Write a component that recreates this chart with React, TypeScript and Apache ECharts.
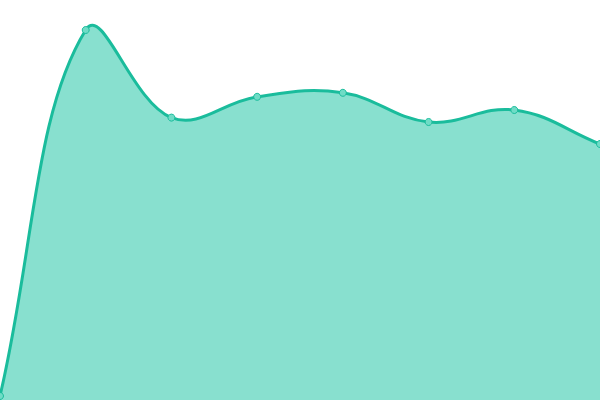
import { useEffect, useRef } from 'react'
import * as echarts from 'echarts'

const categories = ['1', '2', '3', '4', '5', '6', '7', '8']
const values = [1, 92.5, 70.6, 75.8, 76.8, 69.5, 72.5, 64]

const TENSION = 0.4

type Pt = [number, number]

// cardinal-style control points, same idea as a tension spline
function controlPoints(points: Pt[], area: { x: number; y: number; width: number; height: number }) {
  const cps: Array<{ prev: Pt; next: Pt }> = []
  for (let i = 0; i < points.length; i += 1) {
    const first = points[Math.max(0, i - 1)]
    const middle = points[i]
    const after = points[Math.min(points.length - 1, i + 1)]
    const d01 = Math.hypot(middle[0] - first[0], middle[1] - first[1])
    const d12 = Math.hypot(after[0] - middle[0], after[1] - middle[1])
    let s01 = d01 / (d01 + d12)
    let s12 = d12 / (d01 + d12)
    if (Number.isNaN(s01)) s01 = 0
    if (Number.isNaN(s12)) s12 = 0
    const fa = TENSION * s01
    const fb = TENSION * s12
    const cap = (p: Pt): Pt => [
      Math.min(Math.max(p[0], area.x), area.x + area.width),
      Math.min(Math.max(p[1], area.y), area.y + area.height),
    ]
    cps.push({
      prev: cap([middle[0] - fa * (after[0] - first[0]), middle[1] - fa * (after[1] - first[1])]),
      next: cap([middle[0] + fb * (after[0] - first[0]), middle[1] + fb * (after[1] - first[1])]),
    })
  }
  return cps
}

export default function App() {
  const chartRef = useRef<HTMLDivElement | null>(null)

  useEffect(() => {
    if (!chartRef.current) {
      return undefined
    }

    const chart = echarts.init(chartRef.current, undefined, { renderer: 'svg' })

    chart.setOption({
      animation: false,
      grid: { left: 0, right: 0, top: 0, bottom: 0 },
      xAxis: {
        type: 'category',
        boundaryGap: false,
        data: categories,
        show: false,
      },
      yAxis: {
        type: 'value',
        min: 0,
        max: 100,
        show: false,
      },
      series: [
        {
          type: 'custom',
          data: values.map((v, i) => [i, v]),
          renderItem: (params: any, api: any) => {
            if (params.dataIndex !== 0) {
              return null
            }
            const area = params.coordSys
            const points: Pt[] = values.map((v, i) => api.coord([i, v]))
            const cps = controlPoints(points, area)
            let line = `M${points[0][0]},${points[0][1]}`
            for (let i = 1; i < points.length; i += 1) {
              const a = cps[i - 1].next
              const b = cps[i].prev
              line += ` C${a[0]},${a[1]} ${b[0]},${b[1]} ${points[i][0]},${points[i][1]}`
            }
            const base = api.coord([0, 0])[1]
            const last = points[points.length - 1]
            const fill = `${line} L${last[0]},${base} L${points[0][0]},${base} Z`
            return {
              type: 'group',
              children: [
                {
                  type: 'path',
                  shape: { pathData: fill },
                  style: { fill: '#88e0cf', stroke: 'none' },
                },
                {
                  type: 'path',
                  shape: { pathData: line },
                  style: { fill: 'none', stroke: '#1abc9c', lineWidth: 3 },
                },
              ],
            }
          },
          z: 1,
        },
        {
          type: 'line',
          data: values,
          symbol: 'circle',
          symbolSize: 7,
          itemStyle: {
            color: '#6fdcc6',
            borderColor: '#1abc9c',
            borderWidth: 1,
          },
          lineStyle: { width: 0, opacity: 0 },
          z: 2,
        },
      ],
    })

    return () => {
      chart.dispose()
    }
  }, [])

  return (
    <div
      ref={chartRef}
      style={{ position: 'fixed', left: 0, top: 0, width: 600, height: 400 }}
    />
  )
}
